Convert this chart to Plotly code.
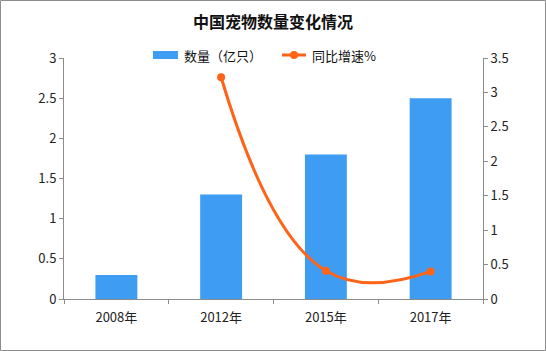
import plotly.graph_objects as go

categories = ["2008年", "2012年", "2015年", "2017年"]
counts = [0.3, 1.3, 1.8, 2.5]
growth_cats = ["2012年", "2015年", "2017年"]
growth = [3.22, 0.41, 0.40]
series_names = ["数量（亿只）", "同比增速%"]

W, H = 546, 351
L, R, T, B = 64, 63, 58, 52
pw, ph = W - L - R, H - T - B

font = "Noto Sans CJK SC, SimSun, sans-serif"
bar_color = "#3E9CF3"
line_color = "#FF6318"

fig = go.Figure()
fig.add_trace(go.Bar(x=categories, y=counts, name=series_names[0],
                     marker=dict(color=bar_color, line=dict(width=0)), width=0.4))
fig.add_trace(go.Scatter(x=growth_cats, y=growth, name=series_names[1], yaxis="y2",
                         mode="lines+markers",
                         line=dict(color=line_color, width=3, shape="spline", smoothing=1.3),
                         marker=dict(color=line_color, size=8)))

axis_common = dict(showgrid=False, zeroline=False, showline=True, linecolor="#8c8c8c",
                   linewidth=1, ticks="outside", ticklen=4, tickcolor="#8c8c8c",
                   tickfont=dict(family=font, size=13, color="#222"))

fig.update_layout(
    width=W, height=H, margin=dict(l=L, r=R, t=T, b=B),
    paper_bgcolor="white", plot_bgcolor="white",
    title=dict(text="<b>中国宠物数量变化情况</b>", x=0.5, xanchor="center", y=1 - 22 / H, yanchor="middle",
               font=dict(family=font, size=16, color="#111")),
    showlegend=False,
    xaxis=dict(**axis_common, tickson="boundaries", type="category", ticklabelstandoff=6),
    yaxis=dict(**axis_common, range=[0, 3], dtick=0.5, tickformat=".1~f"),
    yaxis2=dict(**axis_common, range=[0, 3.5], dtick=0.5, overlaying="y", side="right", tickformat=".1~f"),
)

def px(x):
    return (x - L) / pw

def py(y):
    return (299 - y) / ph

# chart border
fig.add_shape(type="rect", xref="paper", yref="paper",
              x0=px(0.5), x1=px(W - 0.5), y0=py(H - 0.5), y1=py(0.5),
              line=dict(color="#8c8c8c", width=1), fillcolor="rgba(0,0,0,0)", layer="below")

# manual legend
ly = 55
fig.add_shape(type="rect", xref="paper", yref="paper",
              x0=px(153), x1=px(178), y0=py(ly + 4), y1=py(ly - 4),
              line=dict(width=0), fillcolor=bar_color)
fig.add_annotation(xref="paper", yref="paper", x=px(182), y=py(ly), xanchor="left", yanchor="middle",
                   text=series_names[0], showarrow=False, font=dict(family=font, size=13, color="#111"))
fig.add_shape(type="line", xref="paper", yref="paper",
              x0=px(282), x1=px(306), y0=py(ly), y1=py(ly),
              line=dict(color=line_color, width=3))
fig.add_shape(type="circle", xref="paper", yref="paper",
              x0=px(290), x1=px(298), y0=py(ly + 4), y1=py(ly - 4),
              line=dict(width=0), fillcolor=line_color)
fig.add_annotation(xref="paper", yref="paper", x=px(310), y=py(ly), xanchor="left", yanchor="middle",
                   text=series_names[1], showarrow=False, font=dict(family=font, size=13, color="#111"))

fig.write_html("out.html")
